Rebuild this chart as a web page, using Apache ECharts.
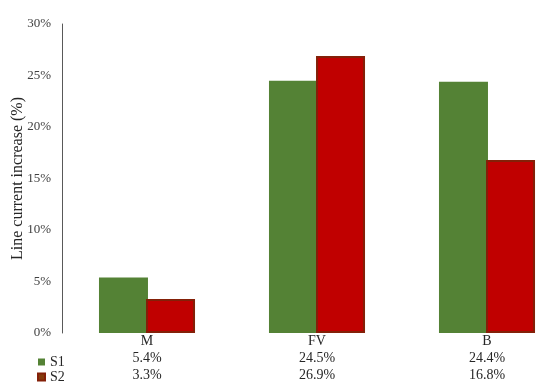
<!DOCTYPE html>
<html><head><meta charset="utf-8">
<script src="https://cdn.jsdelivr.net/npm/echarts@6/dist/echarts.min.js"></script>
<style>html,body{margin:0;padding:0;background:#fff;overflow:hidden}#c{width:600px;height:391px}</style>
</head><body><div id="c"></div>
<script>
var categories = ['M', 'FV', 'B'];
var s1 = [5.4, 24.5, 24.4];
var s2 = [3.3, 26.9, 16.8];
var seriesNames = ['S1', 'S2'];
var yTicks = [0, 5, 10, 15, 20, 25, 30];

var font = 'Liberation Serif, Times New Roman, serif';
var chart = echarts.init(document.getElementById('c'));
chart.setOption({
  animation: false,
  grid: {left: 62, top: 24, bottom: 58, width: 510, containLabel: false, outerBoundsMode: 'none'},
  legend: {
    orient: 'vertical', left: 32, top: 350, itemWidth: 7, itemHeight: 7, itemGap: 1,
    icon: 'rect', textStyle: {fontFamily: font, fontSize: 14, color: '#262626'},
    data: [
      {name: seriesNames[0], itemStyle: {color: '#548235'}},
      {name: seriesNames[1], itemStyle: {color: '#843c0c'}}
    ]
  },
  xAxis: {
    type: 'category', data: categories,
    axisLine: {show: false}, axisTick: {show: false},
    axisLabel: {
      margin: 0, fontFamily: font, fontSize: 14, color: '#262626', lineHeight: 17,
      formatter: function (v, i) { return v + '\n' + s1[i].toFixed(1) + '%\n' + s2[i].toFixed(1) + '%'; }
    }
  },
  yAxis: {
    type: 'value', min: yTicks[0], max: yTicks[yTicks.length - 1], interval: 5,
    name: 'Line current increase (%)', nameLocation: 'middle', nameGap: 36, nameRotate: 90,
    nameMoveOverlap: false,
    nameTextStyle: {fontFamily: font, fontSize: 16, color: '#262626'},
    axisLine: {show: true, lineStyle: {color: '#595959', width: 1}},
    axisTick: {show: false}, splitLine: {show: false},
    axisLabel: {margin: 11, fontFamily: font, fontSize: 13, color: '#404040', formatter: '{value}%'}
  },
  series: [
    {name: 'S1', type: 'bar', data: s1, barWidth: 49, barGap: '-4%', itemStyle: {color: '#548235'}},
    {name: 'S2', type: 'bar', data: s2, barWidth: 49, itemStyle: {color: '#c00000', borderColor: '#842008', borderWidth: 2}}
  ]
});
</script></body></html>
